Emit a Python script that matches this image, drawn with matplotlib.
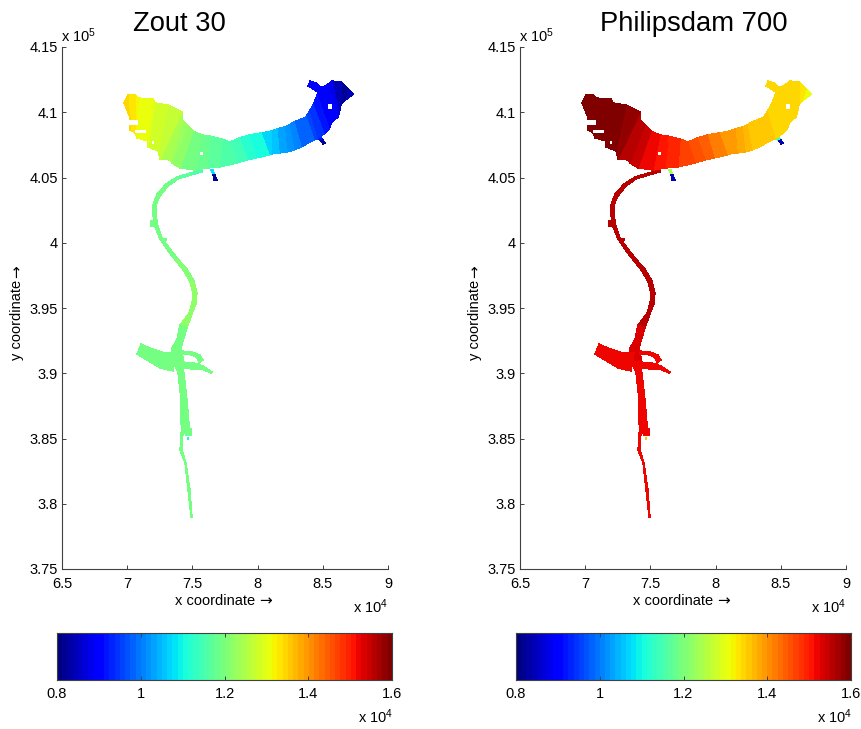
import numpy as np
import matplotlib
matplotlib.use("Agg")
import matplotlib.pyplot as plt
from matplotlib.patches import Rectangle

plt.rcParams['font.family'] = ['Liberation Sans', 'DejaVu Sans']
plt.rcParams['mathtext.default'] = 'regular'

W, H = 861, 729

# estuary cross sections, banks in km (Rijksdriehoek coordinates)
upper_x = [87.28, 86.95, 86.38, 85.74, 85.36, 84.72, 84.54, 84.28, 83.95, 83.69, 82.79, 82.41, 82.03, 81.51, 81.00, 80.23, 79.33,
           78.56, 77.92, 77.26, 76.36, 75.72, 75.08, 74.57, 74.18, 74.18, 73.16, 72.13, 72.00, 70.85, 70.59, 70.08, 69.77]
upper_y = [411.42, 411.80, 412.31, 412.36, 412.06, 411.80, 411.29, 410.53, 410.02, 409.63, 409.25, 409.04, 408.87, 408.69, 408.53, 408.39, 408.26,
           408.00, 407.75, 407.98, 408.16, 408.23, 408.54, 409.05, 409.43, 410.02, 410.58, 410.71, 411.04, 411.09, 411.30, 411.35, 410.71]
lower_x = [87.15, 86.59, 86.38, 86.26, 86.13, 85.74, 85.49, 85.10, 84.59, 84.33, 83.31, 82.79, 82.28, 81.64, 81.00, 80.87, 79.85,
           79.20, 78.44, 77.13, 76.10, 75.21, 74.05, 73.41, 73.28, 72.52, 72.39, 71.62, 71.62, 70.72, 70.59, 70.21, 70.21]
lower_y = [411.24, 410.83, 410.53, 409.89, 409.63, 409.25, 408.74, 408.36, 407.97, 407.84, 407.33, 407.13, 406.95, 406.85, 406.80, 406.73, 406.47,
           406.34, 406.09, 405.78, 405.73, 405.60, 405.73, 406.11, 406.37, 406.45, 407.01, 407.31, 407.77, 408.03, 408.41, 408.67, 409.56]
# one value per cell between two cross sections
estuary_zout = [0.84, 0.82, 0.85, 0.88, 0.89, 0.90, 0.92, 0.94, 0.96, 0.98, 1.01, 1.02, 1.03, 1.05, 1.07, 1.10,
                1.12, 1.14, 1.16, 1.17, 1.18, 1.20, 1.22, 1.23, 1.25, 1.27, 1.28, 1.29, 1.31, 1.32, 1.33, 1.34]
estuary_phil = [1.30, 1.33, 1.34, 1.34, 1.34, 1.34, 1.34, 1.34, 1.35, 1.35, 1.36, 1.37, 1.38, 1.39, 1.40, 1.42,
                1.44, 1.46, 1.47, 1.50, 1.51, 1.52, 1.54, 1.55, 1.56, 1.58, 1.60, 1.60, 1.60, 1.60, 1.60, 1.60]

# channels: centre line x, y (km), width (km), value in each panel
north_x = [75.74, 74.85, 73.82, 73.05, 72.41, 72.10, 72.08, 72.23, 72.59, 73.18, 73.82, 74.46, 74.97, 75.18, 75.10, 74.85, 74.33, 74.03, 73.77, 73.85]
north_y = [405.52, 405.26, 404.93, 404.42, 403.65, 402.89, 402.12, 401.23, 400.33, 399.44, 398.67, 397.91, 397.01, 396.12, 395.35, 394.59, 393.57, 392.54, 391.91, 390.86]
north_w = [0.15, 0.15, 0.18, 0.20, 0.22, 0.25, 0.25, 0.25, 0.25, 0.22, 0.22, 0.22, 0.25, 0.28, 0.30, 0.30, 0.55, 0.45, 0.70, 1.00]
north_zout = [1.16, 1.17, 1.18, 1.19, 1.19, 1.20, 1.20, 1.20, 1.20, 1.20, 1.21, 1.21, 1.22, 1.22, 1.22, 1.22, 1.20, 1.20, 1.19]
north_phil = [1.55, 1.55, 1.55, 1.55, 1.55, 1.55, 1.55, 1.55, 1.55, 1.55, 1.55, 1.55, 1.55, 1.55, 1.55, 1.55, 1.53, 1.53, 1.53]

south_x = [73.85, 74.12, 74.36, 74.41, 74.51]
south_y = [390.86, 390.02, 387.95, 386.17, 385.40]
south_w = [0.50, 0.42, 0.50, 0.62, 0.68]

tail_x = [74.20, 74.15, 74.46, 74.72, 74.92]
tail_y = [385.42, 384.12, 383.12, 381.05, 379.00]
tail_w = [0.15, 0.15, 0.13, 0.13, 0.13]

west_x = [70.91, 71.57, 72.72, 73.63]
west_y = [391.85, 391.53, 390.97, 390.84]
west_w = [0.85, 0.90, 1.15, 1.40]

arm_n_x = [74.21, 74.97, 75.48, 75.66]
arm_n_y = [391.57, 391.53, 391.27, 390.90]
arm_n_w = [0.20, 0.20, 0.35, 0.40]

arm_s_x = [74.08, 75.10, 75.74, 76.46]
arm_s_y = [390.63, 390.55, 390.45, 390.04]
arm_s_w = [0.50, 0.50, 0.28, 0.12]

# stubs at the estuary banks
stub1_x = [76.51, 76.64, 76.77]
stub1_y = [405.58, 405.19, 404.81]
stub2_x = [84.72, 84.91, 85.10]
stub2_y = [408.10, 407.85, 407.59]
ne_arm_x = [83.95, 84.33, 84.85]
ne_arm_y = [412.19, 412.01, 411.68]

# blocks on the channel banks: x, y, w, h (km) and value
block_x = [71.72, 72.54, 74.45, 74.55]
block_y = [401.18, 400.16, 385.20, 384.85]
block_w = [0.40, 0.50, 0.55, 0.22]
block_h = [0.56, 0.22, 0.60, 0.30]
block_zout = [1.19, 1.20, 1.19, 1.10]
block_phil = [1.55, 1.55, 1.52, 1.35]

# small dry spots inside the estuary
hole_x = [75.59, 85.41, 69.80, 70.59, 71.87]
hole_y = [406.70, 410.22, 409.05, 408.39, 407.57]
hole_w = [0.26, 0.30, 1.00, 0.82, 0.20]
hole_h = [0.26, 0.43, 0.36, 0.23, 0.20]

x_ticks = [6.5, 7, 7.5, 8, 8.5, 9]
y_ticks = [3.75, 3.8, 3.85, 3.9, 3.95, 4, 4.05, 4.1, 4.15]
cbar_ticks = [0.8, 1, 1.2, 1.4, 1.6]
panels = [
    {"title": "Zout 30", "left": 62, "title_x": 179, "cb_left": 57,
     "estuary": estuary_zout, "north": north_zout, "south": 1.19, "tail": 1.19, "west": 1.19,
     "arm": 1.19, "stub1": [1.08, 0.82], "stub2": [0.92, 0.82], "ne": 0.90,
     "blocks": block_zout},
    {"title": "Philipsdam 700", "left": 520, "title_x": 694, "cb_left": 516,
     "estuary": estuary_phil, "north": north_phil, "south": 1.52, "tail": 1.52, "west": 1.52,
     "arm": 1.52, "stub1": [1.25, 0.85], "stub2": [1.15, 0.85], "ne": 1.34,
     "blocks": block_phil},
]

cmap = plt.get_cmap('jet', 64)
vmin, vmax = 0.8, 1.6
dark = "#404040"


def px_axes(fig, left, top, right, bottom):
    return fig.add_axes([left / W, 1 - bottom / H, (right - left) / W, (bottom - top) / H])


def px_text(fig, x, y, s, **kw):
    kw.setdefault("ha", "center")
    kw.setdefault("va", "center")
    kw.setdefault("fontsize", 10)
    fig.text(x / W, 1 - y / H, s, **kw)


def mesh(ax, xu, yu, xl, yl, values):
    X = np.column_stack([xu, xl])
    Y = np.column_stack([yu, yl])
    C = np.asarray(values).reshape(-1, 1)
    ax.pcolormesh(X, Y, C, shading='flat', cmap=cmap, vmin=vmin, vmax=vmax,
                  edgecolors='face', linewidth=0.25)


def channel(ax, cx, cy, width, values):
    cx = np.array(cx)
    cy = np.array(cy)
    w = np.array(width) if np.ndim(width) else np.full(len(cx), width)
    dx = np.gradient(cx)
    dy = np.gradient(cy)
    n = np.hypot(dx, dy)
    nx, ny = -dy / n, dx / n
    if np.ndim(values) == 0:
        values = [values] * (len(cx) - 1)
    mesh(ax, cx + nx * w / 2, cy + ny * w / 2, cx - nx * w / 2, cy - ny * w / 2, values)


fig = plt.figure(figsize=(W / 100, H / 100), dpi=100)

for p in panels:
    left = p["left"]
    ax = px_axes(fig, left, 47, left + 326, 569)
    ax.set_xlim(65, 90)
    ax.set_ylim(375, 415)

    channel(ax, north_x, north_y, north_w, p["north"])
    channel(ax, south_x, south_y, south_w, p["south"])
    channel(ax, tail_x, tail_y, tail_w, p["tail"])
    channel(ax, west_x, west_y, west_w, p["west"])
    channel(ax, arm_n_x, arm_n_y, arm_n_w, p["arm"])
    channel(ax, arm_s_x, arm_s_y, arm_s_w, p["arm"])
    channel(ax, stub1_x, stub1_y, 0.18, p["stub1"])
    channel(ax, stub2_x, stub2_y, 0.20, p["stub2"])
    mesh(ax, upper_x, upper_y, lower_x, lower_y, p["estuary"])
    channel(ax, ne_arm_x, ne_arm_y, 0.45, p["ne"])
    for x, y, w, h, v in zip(block_x, block_y, block_w, block_h, p["blocks"]):
        ax.add_patch(Rectangle((x, y), w, h, color=cmap((v - vmin) / (vmax - vmin)), lw=0))
    for x, y, w, h in zip(hole_x, hole_y, hole_w, hole_h):
        ax.add_patch(Rectangle((x, y), w, h, color="white", lw=0, zorder=3))

    ax.set_xticks([t * 10 for t in x_ticks])
    ax.set_xticklabels([f"{t:g}" for t in x_ticks])
    ax.set_yticks([t * 100 for t in y_ticks])
    ax.set_yticklabels([f"{t:g}" for t in y_ticks])
    ax.tick_params(direction='in', length=3, width=0.7, color=dark, labelsize=10.5, pad=3)
    ax.tick_params(axis='x', pad=6)
    ax.spines['top'].set_visible(False)
    ax.spines['right'].set_visible(False)
    ax.spines['left'].set_color(dark)
    ax.spines['bottom'].set_color(dark)

    px_text(fig, p["title_x"], 24, p["title"], fontsize=19.7)
    px_text(fig, left + 17, 36, "x $10^5$", fontsize=10.5)
    # arrows in DejaVu, the Liberation one is too small
    px_text(fig, left + 153, 601, "x coordinate", fontsize=10.5)
    px_text(fig, left + 203, 601, "\u2192", fontsize=11, family="DejaVu Sans")
    px_text(fig, left - 45, 320, "y coordinate", fontsize=10.5, rotation=90)
    px_text(fig, left - 45, 272, "\u2192", fontsize=11, rotation=90, family="DejaVu Sans")
    px_text(fig, left + 309, 607, "x $10^4$", fontsize=10.5)

    cb_left = p["cb_left"]
    cax = px_axes(fig, cb_left, 633, cb_left + 335, 680)
    gradient = np.linspace(vmin, vmax, 64).reshape(1, -1)
    cax.imshow(gradient, aspect='auto', cmap=cmap, vmin=vmin, vmax=vmax,
               extent=[vmin, vmax, 0, 1], interpolation='nearest')
    cax.set_yticks([])
    cax.set_xticks(cbar_ticks)
    cax.set_xticklabels([f"{t:g}" for t in cbar_ticks])
    cax.tick_params(direction='in', length=3, width=0.7, color=dark, labelsize=10.5, pad=5, top=True)
    for s in cax.spines.values():
        s.set_color(dark)
        s.set_linewidth(0.8)
    px_text(fig, cb_left + 319, 717, "x $10^4$", fontsize=10.5)

fig.savefig("out.png", dpi=100)
